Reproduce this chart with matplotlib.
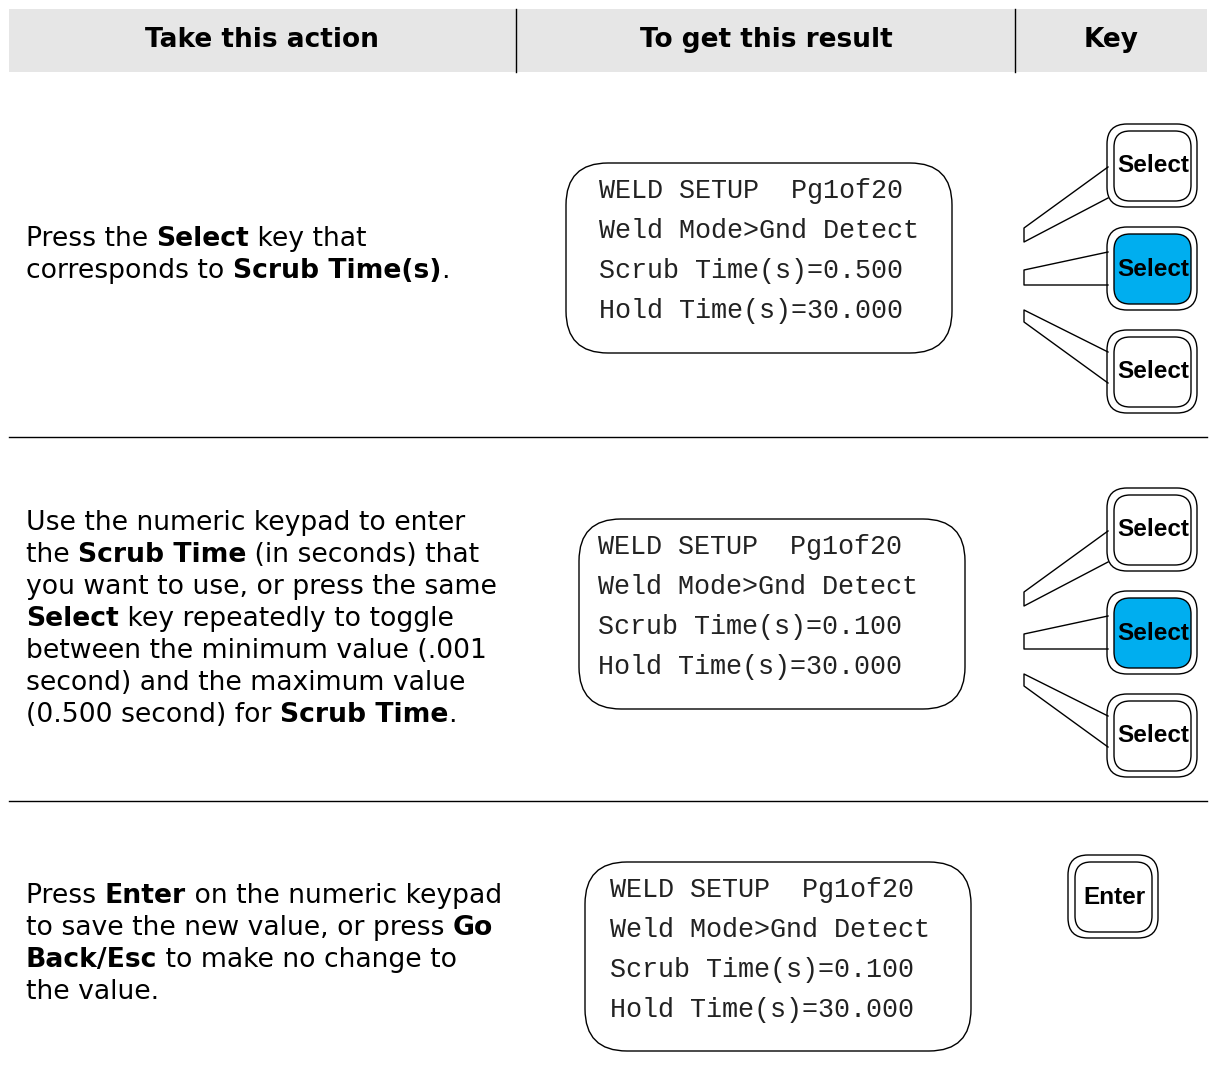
import matplotlib
matplotlib.use("Agg")
import matplotlib.pyplot as plt
from matplotlib.patches import FancyBboxPatch, Rectangle
from matplotlib import font_manager

W, H = 1212, 1082

# ---- content ----
headers = ["Take this action", "To get this result", "Key"]
header_x = [262, 766, 1111]

# each line is a list of (text, bold) runs
action_row1 = [
    [("Press the ", False), ("Select", True), (" key that", False)],
    [("corresponds to ", False), ("Scrub Time(s)", True), (".", False)],
]
action_row2 = [
    [("Use the numeric keypad to enter", False)],
    [("the ", False), ("Scrub Time", True), (" (in seconds) that", False)],
    [("you want to use, or press the same", False)],
    [("Select", True), (" key repeatedly to toggle", False)],
    [("between the minimum value (.001", False)],
    [("second) and the maximum value", False)],
    [("(0.500 second) for ", False), ("Scrub Time", True), (".", False)],
]
action_row3 = [
    [("Press ", False), ("Enter", True), (" on the numeric keypad", False)],
    [("to save the new value, or press ", False), ("Go", True)],
    [("Back/Esc", True), (" to make no change to", False)],
    [("the value.", False)],
]
actions = [action_row1, action_row2, action_row3]
action_top = [237, 521, 894]

display_row1 = ["WELD SETUP  Pg1of20", "Weld Mode>Gnd Detect",
                "Scrub Time(s)=0.500", "Hold Time(s)=30.000"]
display_row2 = ["WELD SETUP  Pg1of20", "Weld Mode>Gnd Detect",
                "Scrub Time(s)=0.100", "Hold Time(s)=30.000"]
display_row3 = ["WELD SETUP  Pg1of20", "Weld Mode>Gnd Detect",
                "Scrub Time(s)=0.100", "Hold Time(s)=30.000"]
displays = [display_row1, display_row2, display_row3]
display_box = [(566, 163, 386, 190), (579, 519, 386, 190), (585, 862, 386, 189)]
display_text_x = [599, 598, 610]

select_active = [False, True, False]
key_row_top = [124, 488]

BLUE = "#00aeef"
GRAY = "#e6e6e6"
FS = 19.2

fonts = {f.name for f in font_manager.fontManager.ttflist}
if "Liberation Sans Narrow" in fonts:
    key_font = dict(family="Liberation Sans Narrow", fontsize=20)
elif "DejaVu Sans Condensed" in fonts:
    key_font = dict(family="DejaVu Sans Condensed", fontsize=18)
else:
    key_font = dict(family="Liberation Sans", fontsize=17.5)

fig = plt.figure(figsize=(W / 100, H / 100), dpi=100)
ax = fig.add_axes([0, 0, 1, 1])
ax.set_xlim(0, W)
ax.set_ylim(H, 0)
ax.axis("off")
r = fig.canvas.get_renderer()

# header band
ax.add_patch(Rectangle((9, 9), 1198, 63, facecolor=GRAY, edgecolor="none"))
for xd in [516, 1015]:
    ax.plot([xd, xd], [9, 72], color="black", lw=1)
for txt, xc in zip(headers, header_x):
    ax.text(xc, 40, txt, ha="center", va="center", fontsize=19,
            fontweight="bold", family="DejaVu Sans")

# row separators
for yl in [437, 801]:
    ax.plot([9, 1207], [yl, yl], color="black", lw=1)


def width_of(txt, bold):
    wt = "bold" if bold else "normal"
    t = ax.text(0, 0, "|" + txt + "|", fontsize=FS, fontweight=wt)
    w = t.get_window_extent(renderer=r).width
    t.remove()
    t = ax.text(0, 0, "||", fontsize=FS, fontweight=wt)
    w -= t.get_window_extent(renderer=r).width
    t.remove()
    return w


# action text
for lines, y0 in zip(actions, action_top):
    for i, runs in enumerate(lines):
        x = 26
        yb = y0 + 32 * i + 9
        for txt, bold in runs:
            ax.text(x, yb, txt, fontsize=FS, va="baseline", ha="left",
                    fontweight="bold" if bold else "normal")
            x += width_of(txt, bold)

# LCD displays
for lines, (bx, by, bw, bh), tx in zip(displays, display_box, display_text_x):
    ax.add_patch(FancyBboxPatch((bx, by), bw, bh,
                                boxstyle="round,pad=0,rounding_size=42",
                                facecolor="white", edgecolor="black", lw=1))
    for i, ln in enumerate(lines):
        ax.text(tx, by + 28 + 40 * i, ln, fontsize=19.3, color="#222222",
                family="Liberation Mono", va="center", ha="left")


def key(x0, y0, label, fill):
    ax.add_patch(FancyBboxPatch((x0, y0), 90, 83,
                                boxstyle="round,pad=0,rounding_size=20",
                                facecolor="white", edgecolor="black", lw=1))
    ax.add_patch(FancyBboxPatch((x0 + 7, y0 + 7), 77, 70,
                                boxstyle="round,pad=0,rounding_size=16",
                                facecolor=fill, edgecolor="black", lw=1))
    ax.text(x0 + 46, y0 + 42, label, ha="center", va="center",
            fontweight="bold", **key_font)


# select keys with connector wedges
wedges = [
    [(1108, 167), (1024, 228), (1024, 242), (1108, 198)],
    [(1108, 252), (1024, 270), (1024, 285), (1108, 285)],
    [(1108, 352), (1024, 310), (1024, 322), (1108, 383)],
]
for ytop in key_row_top:
    dy = ytop - key_row_top[0]
    for k, active in enumerate(select_active):
        pts = wedges[k]
        ax.plot([p[0] for p in pts], [p[1] + dy for p in pts], color="black", lw=1)
        key(1107, ytop + 103 * k, "Select", BLUE if active else "white")

key(1068, 855, "Enter", "white")

fig.savefig("out.png", dpi=100)
